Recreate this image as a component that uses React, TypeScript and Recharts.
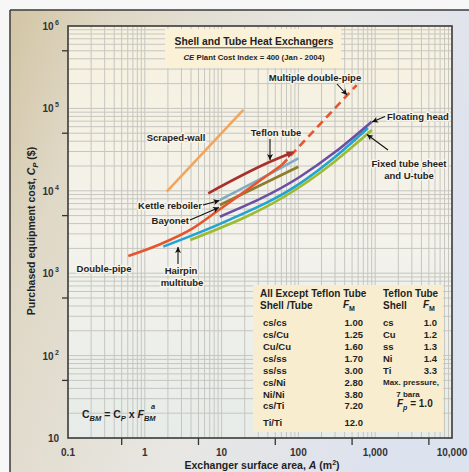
import React from 'react'
import { LineChart, Line, XAxis, YAxis, ReferenceLine } from 'recharts'

/* ------------------------------------------------------------------ */
/*  Data  (area in m², purchased cost in $)                            */
/* ------------------------------------------------------------------ */

const scrapedWallArea = [1.93, 19.2]
const scrapedWallCost = [9750, 96000]

const doublePipeArea = [0.61, 1.5, 4.1, 9.1, 18.3, 36.7, 60.6]
const doublePipeCost = [1620, 2200, 3450, 5800, 9250, 14700, 20500]

const multiDoublePipeArea = [60.6, 574]
const multiDoublePipeCost = [20500, 192000]

const teflonArea = [6.7, 42.7, 82]
const teflonCost = [9330, 22500, 29000]

const kettleArea = [9.5, 30, 100]
const kettleCost = [7730, 13500, 24800]

const bayonetArea = [9.5, 100]
const bayonetCost = [6730, 19600]

const floatingHeadArea = [9.5, 105, 300, 900]
const floatingHeadCost = [4850, 14800, 29500, 69000]

const fixedTubeArea = [1.74, 11.1, 105, 300, 805]
const fixedTubeCost = [2100, 4220, 12300, 25700, 57800]

const uTubeArea = [3.9, 105, 300, 908]
const uTubeCost = [2530, 11200, 22900, 54700]

const xTicks = [0.1, 0.5, 1, 5, 10, 50, 100, 500, 1000, 5000, 10000]
const xTickLabels = ['0.1', '', '1', '', '10', '', '100', '', '1,000', '', '10,000']
const yTicks = [10, 50, 100, 500, 1000, 5000, 10000, 50000, 100000, 500000, 1000000]
const yTickBase = ['10', '', '10', '', '10', '', '10', '', '10', '', '10']
const yTickExp = ['', '', '2', '', '3', '', '4', '', '5', '', '6']

const xDecades = [0.1, 1, 10, 100, 1000]
const yDecades = [10, 100, 1000, 10000, 100000]
const gridSteps = [1, 2, 3, 4, 5, 6, 7, 8, 9]

const shellTube = ['cs/cs', 'cs/Cu', 'Cu/Cu', 'cs/ss', 'ss/ss', 'cs/Ni', 'Ni/Ni', 'cs/Ti', 'Ti/Ti']
const fmAll = ['1.00', '1.25', '1.60', '1.70', '3.00', '2.80', '3.80', '7.20', '12.0']
const teflonShell = ['cs', 'Cu', 'ss', 'Ni', 'Ti']
const fmTeflon = ['1.0', '1.2', '1.3', '1.4', '3.3']

/* ------------------------------------------------------------------ */
/*  Helpers                                                            */
/* ------------------------------------------------------------------ */

const toPoints = (area: number[], cost: number[]) => area.map((a, i) => ({ area: a, cost: cost[i] }))

const gridX = xDecades.flatMap((d) => gridSteps.map((k) => k * d)).filter((v) => v > 0.1)
const gridY = yDecades.flatMap((d) => gridSteps.map((k) => k * d)).filter((v) => v > 10)

const FONT = '"Liberation Sans", Arial, Helvetica, sans-serif'
const INK = '#1f1f1f'

const series = [
  { id: 'scraped', area: scrapedWallArea, cost: scrapedWallCost, color: '#f2a65c' },
  { id: 'teflon', area: teflonArea, cost: teflonCost, color: '#a9302a' },
  { id: 'kettle', area: kettleArea, cost: kettleCost, color: '#82aac0' },
  { id: 'bayonet', area: bayonetArea, cost: bayonetCost, color: '#8b7d2e' },
  { id: 'uTube', area: uTubeArea, cost: uTubeCost, color: '#9cbb30' },
  { id: 'fixed', area: fixedTubeArea, cost: fixedTubeCost, color: '#22a4d2' },
  { id: 'floating', area: floatingHeadArea, cost: floatingHeadCost, color: '#6a4fa5' },
  { id: 'double', area: doublePipeArea, cost: doublePipeCost, color: '#e5552f' },
]

/* ------------------------------------------------------------------ */
/*  Ticks                                                              */
/* ------------------------------------------------------------------ */

function XTick(props: any) {
  const { x, y, payload } = props
  const i = xTicks.indexOf(payload.value)
  const label = xTickLabels[i]
  if (label) {
    return (
      <text x={x} y={y + 18} textAnchor="middle" fontFamily={FONT} fontWeight="bold" fontSize={10} fill="#333">
        {label}
      </text>
    )
  }
  return <line x1={x} x2={x} y1={y} y2={y + 7} stroke="#333" strokeWidth={1.3} />
}

function YTick(props: any) {
  const { x, y, payload } = props
  const i = yTicks.indexOf(payload.value)
  const base = yTickBase[i]
  if (base) {
    const exp = yTickExp[i]
    return (
      <text x={x - 9} y={y + 4} textAnchor="end" fontFamily={FONT} fontWeight="bold" fontSize={10} fill="#333">
        {base}
        {exp && (
          <tspan dx={1.5} dy={-5} fontSize={7}>
            {exp}
          </tspan>
        )}
      </text>
    )
  }
  return <line x1={x - 6} x2={x} y1={y} y2={y} stroke="#333" strokeWidth={1.3} />
}

function TeflonEnd(props: any) {
  const { cx, cy, index } = props
  if (index !== teflonArea.length - 1) return <g key={`td${index}`} />
  return (
    <polygon
      key={`td${index}`}
      points="3,0 -5,-3.5 -5,3.5"
      transform={`translate(${cx},${cy}) rotate(-24)`}
      fill="#a9302a"
    />
  )
}

/* ------------------------------------------------------------------ */
/*  Overlay pieces                                                     */
/* ------------------------------------------------------------------ */

function Arrow({ x1, y1, x2, y2 }: { x1: number; y1: number; x2: number; y2: number }) {
  const ang = (Math.atan2(y2 - y1, x2 - x1) * 180) / Math.PI
  return (
    <g>
      <line x1={x1} y1={y1} x2={x2} y2={y2} stroke="#111" strokeWidth={1.1} />
      <polygon points="0,0 -6,-3 -4.5,0 -6,3" transform={`translate(${x2},${y2}) rotate(${ang})`} fill="#111" />
    </g>
  )
}

const halo = {
  stroke: '#f7f4ea',
  strokeWidth: 3,
  paintOrder: 'stroke' as const,
  strokeLinejoin: 'round' as const,
}

function Label({ x, y, children, anchor = 'middle', size = 9.5 }: any) {
  return (
    <text x={x} y={y} textAnchor={anchor} fontFamily={FONT} fontWeight="bold" fontSize={size} fill={INK} {...halo}>
      {children}
    </text>
  )
}

function Overlay() {
  const rowY = [326, 338, 350, 361.5, 373.5, 385.5, 397.5, 409, 426]
  return (
    <svg width={469} height={472} style={{ position: 'absolute', left: 0, top: 0, pointerEvents: 'none' }}>
      {/* plot border */}
      <rect x={68} y={26} width={384} height={412} fill="none" stroke="#3a3a3a" strokeWidth={1.6} />

      {/* title box */}
      <rect x={165} y={29} width={176} height={39} fill="#fbf1d6" />
      <text x={254} y={44.5} textAnchor="middle" fontFamily={FONT} fontWeight="bold" fontSize={10.3} fill={INK}>
        Shell and Tube Heat Exchangers
      </text>
      <line x1={175} x2={333} y1={47.8} y2={47.8} stroke="#555" strokeWidth={1} />
      <text x={254} y={60} textAnchor="middle" fontFamily={FONT} fontWeight="bold" fontSize={7.8} fill={INK}>
        <tspan fontStyle="italic">CE</tspan> Plant Cost Index = 400 (Jan - 2004)
      </text>

      {/* curve labels */}
      <Label x={176} y={140.5}>Scraped-wall</Label>
      <Label x={276} y={135.5}>Teflon tube</Label>
      <Arrow x1={270} y1={139} x2={270} y2={160} />
      <Label x={315} y={80.5}>Multiple double-pipe</Label>
      <Arrow x1={337} y1={84} x2={347} y2={95} />
      <Label x={387} y={119.5} anchor="start">Floating head</Label>
      <Arrow x1={385} y1={116.5} x2={372} y2={122} />
      <Label x={409} y={166.5}>Fixed tube sheet</Label>
      <Label x={409} y={178.5}>and U-tube</Label>
      <Arrow x1={388} y1={150} x2={367} y2={134.5} />
      <Label x={202} y={208.5} anchor="end">Kettle reboiler</Label>
      <Arrow x1={203} y1={205} x2={219.5} y2={200.5} />
      <Label x={189} y={223.5} anchor="end">Bayonet</Label>
      <Arrow x1={190} y1={220} x2={219} y2={207.5} />
      <Label x={104} y={271.5}>Double-pipe</Label>
      <Label x={181} y={273.5}>Hairpin</Label>
      <Label x={182} y={285.5}>multitube</Label>
      <Arrow x1={178} y1={264} x2={178} y2={247} />

      {/* formula */}
      <text x={82} y={418} fontFamily={FONT} fontWeight="bold" fontSize={10.5} fill={INK}>
        C
        <tspan fontSize={7.5} fontStyle="italic" dy={2.5}>
          BM
        </tspan>
        <tspan dy={-2.5}> = C</tspan>
        <tspan fontSize={7.5} fontStyle="italic" dy={2.5}>
          P
        </tspan>
        <tspan dy={-2.5}> x </tspan>
        <tspan fontStyle="italic">F</tspan>
        <tspan fontSize={7.5} fontStyle="italic" dy={2.5}>
          BM
        </tspan>
      </text>
      <text x={151} y={409} fontFamily={FONT} fontWeight="bold" fontSize={7.5} fontStyle="italic" fill={INK}>
        a
      </text>

      {/* material factor table */}
      <rect x={253} y={285} width={190} height={147} fill="#f9edcf" />
      <g fontFamily={FONT} fontWeight="bold" fill={INK}>
        <text x={260} y={296.5} fontSize={10}>
          All Except Teflon Tube
        </text>
        <text x={383} y={296.5} fontSize={10}>
          Teflon Tube
        </text>
        <text x={260} y={308.5} fontSize={10}>
          Shell /Tube
        </text>
        <text x={343} y={307.5} fontSize={10} fontStyle="italic">
          F
          <tspan fontSize={7} fontStyle="normal" dy={3}>
            M
          </tspan>
        </text>
        <text x={383} y={308.5} fontSize={10}>
          Shell
        </text>
        <text x={423} y={307.5} fontSize={10} fontStyle="italic">
          F
          <tspan fontSize={7} fontStyle="normal" dy={3}>
            M
          </tspan>
        </text>
        {shellTube.map((s, i) => (
          <text key={s} x={263} y={rowY[i]} fontSize={9.5}>
            {s}
          </text>
        ))}
        {fmAll.map((v, i) => (
          <text key={`fa${i}`} x={363} y={rowY[i]} fontSize={9.5} textAnchor="end">
            {v}
          </text>
        ))}
        {teflonShell.map((s, i) => (
          <text key={`ts${i}`} x={383} y={rowY[i]} fontSize={9.5}>
            {s}
          </text>
        ))}
        {fmTeflon.map((v, i) => (
          <text key={`ft${i}`} x={437} y={rowY[i]} fontSize={9.5} textAnchor="end">
            {v}
          </text>
        ))}
        <text x={383} y={385} fontSize={8}>
          Max. pressure,
        </text>
        <text x={408} y={397} fontSize={8} textAnchor="middle">
          7 bara
        </text>
        <text x={397} y={407} fontSize={10}>
          <tspan fontStyle="italic">F</tspan>
          <tspan fontSize={7} fontStyle="italic" dy={3}>
            p
          </tspan>
          <tspan dy={-3}> = 1.0</tspan>
        </text>
      </g>

      {/* axis titles */}
      <text
        x={35}
        y={231}
        transform="rotate(-90 35 231)"
        textAnchor="middle"
        fontFamily={FONT}
        fontWeight="bold"
        fontSize={10.5}
        fill={INK}
      >
        Purchased equipment cost, <tspan fontStyle="italic">C</tspan>
        <tspan fontSize={7.5} fontStyle="italic" dy={2.5}>
          P
        </tspan>
        <tspan dy={-2.5}> ($)</tspan>
      </text>
      <text x={262} y={468.5} textAnchor="middle" fontFamily={FONT} fontWeight="bold" fontSize={10.5} fill={INK}>
        Exchanger surface area, <tspan fontStyle="italic">A</tspan> (m
        <tspan fontSize={7} dy={-4}>
          2
        </tspan>
        <tspan dy={4}>)</tspan>
      </text>
    </svg>
  )
}

function Background() {
  return (
    <svg width={469} height={472} style={{ position: 'absolute', left: 0, top: 0 }}>
      <defs>
        <linearGradient id="frameBg" x1="0" y1="0" x2="1" y2="0.35">
          <stop offset="0%" stopColor="#d3c5a4" />
          <stop offset="20%" stopColor="#dfd8c6" />
          <stop offset="60%" stopColor="#e8e7e3" />
          <stop offset="100%" stopColor="#dde2ef" />
        </linearGradient>
        <linearGradient id="plotBg" x1="0" y1="0" x2="0" y2="1">
          <stop offset="0%" stopColor="#f7f1df" />
          <stop offset="55%" stopColor="#f3f2ec" />
          <stop offset="100%" stopColor="#e7ece8" />
        </linearGradient>
      </defs>
      <rect width={469} height={472} fill="#f7f7f7" />
      <rect x={10} y={10} width={470} height={470} fill="url(#frameBg)" />
      <line x1={10} y1={10} x2={469} y2={10} stroke="#3a3a3a" strokeWidth={1.5} />
      <line x1={10} y1={10} x2={10} y2={472} stroke="#3a3a3a" strokeWidth={1.5} />
      <rect x={68} y={26} width={384} height={412} fill="url(#plotBg)" />
    </svg>
  )
}

/* ------------------------------------------------------------------ */
/*  Component                                                          */
/* ------------------------------------------------------------------ */

export default function App() {
  return (
    <div style={{ position: 'absolute', left: 0, top: 0, width: 469, height: 472, overflow: 'hidden' }}>
      <Background />
      <div style={{ position: 'absolute', left: 0, top: 0 }}>
        <LineChart width={469} height={472} margin={{ top: 26, right: 17, bottom: 4, left: 8 }}>
          <XAxis
            type="number"
            dataKey="area"
            scale="log"
            domain={[0.1, 10000]}
            allowDataOverflow
            ticks={xTicks}
            interval={0}
            tick={<XTick />}
            tickLine={false}
            axisLine={false}
            tickSize={0}
            tickMargin={0}
            height={30}
          />
          <YAxis
            type="number"
            dataKey="cost"
            scale="log"
            domain={[10, 1000000]}
            allowDataOverflow
            ticks={yTicks}
            interval={0}
            tick={<YTick />}
            tickLine={false}
            axisLine={false}
            tickSize={0}
            tickMargin={0}
            width={60}
          />
          {gridX.map((v) => (
            <ReferenceLine key={`gx${v}`} x={v} stroke="#c6c6c1" strokeWidth={1} zIndex={-50} />
          ))}
          {gridY.map((v) => (
            <ReferenceLine key={`gy${v}`} y={v} stroke="#c6c6c1" strokeWidth={1} zIndex={-50} />
          ))}
          {series.map((s) => (
            <Line
              key={s.id}
              data={toPoints(s.area, s.cost)}
              dataKey="cost"
              type="monotone"
              stroke={s.color}
              strokeWidth={2.6}
              dot={s.id === 'teflon' ? TeflonEnd : false}
              activeDot={false}
              isAnimationActive={false}
            />
          ))}
          <Line
            data={toPoints(multiDoublePipeArea, multiDoublePipeCost)}
            dataKey="cost"
            type="linear"
            stroke="#e5552f"
            strokeWidth={2.6}
            strokeDasharray="8 5"
            dot={false}
            activeDot={false}
            isAnimationActive={false}
          />
        </LineChart>
      </div>
      <Overlay />
    </div>
  )
}
